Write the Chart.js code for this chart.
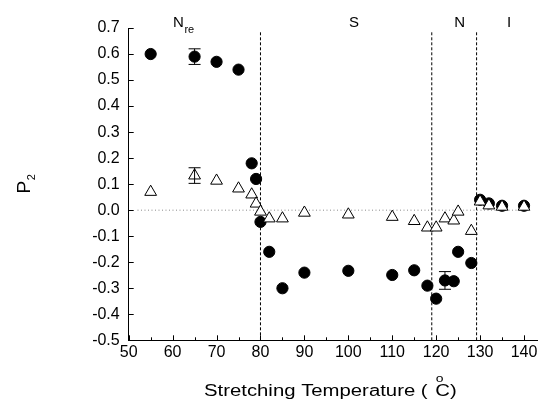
<!DOCTYPE html>
<html>
<head>
<meta charset="utf-8">
<script src="https://cdn.jsdelivr.net/npm/chart.js@4.4.1/dist/chart.umd.min.js"></script>
<style>
html, body { margin: 0; padding: 0; background: #fff; }
</style>
</head>
<body>
<canvas id="myChart" width="545" height="407"></canvas>
<script>
// stretching temperatures (°C), shared by both series
const temps     = [55, 65, 70, 75, 78, 79, 80, 82, 85, 90, 100, 110, 115, 118, 120, 122, 124, 125, 128, 130, 132, 135, 140];
// filled circles
const circleP   = [0.60, 0.59, 0.57, 0.54, 0.18, 0.12, -0.045, -0.16, -0.30, -0.24, -0.233, -0.249, -0.231, -0.29, -0.34, -0.27, -0.273, -0.16, -0.203, 0.04, 0.026, 0.017, 0.017];
// open triangles
const triangleP = [0.07, 0.133, 0.113, 0.083, 0.06, 0.025, -0.006, -0.032, -0.032, -0.01, -0.017, -0.026, -0.042, -0.067, -0.067, -0.032, -0.04, -0.006, -0.08, 0.033, 0.018, 0.013, 0.013];
// error bars
const circleErrT   = [65, 122];
const circleErr    = [0.03, 0.034];
const triangleErrT = [65];
const triangleErr  = [0.03];
// phase boundaries and names
const phaseBounds = [80, 119, 129.2];
const phaseNames  = ['N', 'S', 'N', 'I'];
// axes
const xTicks = [50, 60, 70, 80, 90, 100, 110, 120, 130, 140];
const xMinor = [55, 65, 75, 85, 95, 105, 115, 125, 135];
const yTicks = [-0.5, -0.4, -0.3, -0.2, -0.1, 0, 0.1, 0.2, 0.3, 0.4, 0.5, 0.6, 0.7];

const FONT = "'Liberation Sans', Arial, sans-serif";

function points(ys) {
    return temps.map((t, i) => ({x: t, y: ys[i]}));
}

const boundaryLines = phaseBounds.map(b => ({
    data: [{x: b, y: -0.5}, {x: b, y: 0.69}],
    showLine: true,
    borderColor: '#000',
    borderWidth: 1,
    borderDash: [3, 2],
    pointRadius: 0,
    order: 3
}));

const decor = {
    id: 'decor',
    afterDatasetsDraw(chart) {
        const ctx = chart.ctx;
        const xs = chart.scales.x, ys = chart.scales.y;
        const area = chart.chartArea;
        ctx.save();
        ctx.strokeStyle = '#000';
        ctx.lineWidth = 1;
        // inside tick marks
        ctx.beginPath();
        xTicks.forEach(v => {
            const px = Math.round(xs.getPixelForValue(v)) + 0.5;
            ctx.moveTo(px, area.bottom); ctx.lineTo(px, area.bottom - 5);
        });
        xMinor.forEach(v => {
            const px = Math.round(xs.getPixelForValue(v)) + 0.5;
            ctx.moveTo(px, area.bottom); ctx.lineTo(px, area.bottom - 3);
        });
        yTicks.forEach(v => {
            const py = Math.round(ys.getPixelForValue(v)) + 0.5;
            ctx.moveTo(area.left, py); ctx.lineTo(area.left + 5, py);
        });
        ctx.stroke();

        // error bars
        function errBar(t, p, e) {
            const px = xs.getPixelForValue(t);
            const top = ys.getPixelForValue(p + e), bot = ys.getPixelForValue(p - e);
            ctx.beginPath();
            ctx.moveTo(px, top); ctx.lineTo(px, bot);
            ctx.moveTo(px - 6, top); ctx.lineTo(px + 6, top);
            ctx.moveTo(px - 6, bot); ctx.lineTo(px + 6, bot);
            ctx.stroke();
        }
        circleErrT.forEach((t, i) => errBar(t, circleP[temps.indexOf(t)], circleErr[i]));
        triangleErrT.forEach((t, i) => errBar(t, triangleP[temps.indexOf(t)], triangleErr[i]));

        ctx.fillStyle = '#000';
        // phase labels
        const base = area.top - 1;
        ctx.textBaseline = 'alphabetic';
        ctx.font = '15px ' + FONT;
        ctx.textAlign = 'left';
        const nx = xs.getPixelForValue(60.1);
        ctx.fillText(phaseNames[0], nx, base);
        const nw = ctx.measureText(phaseNames[0]).width;
        ctx.font = '11px ' + FONT;
        ctx.fillText('re', nx + nw + 0.5, base + 6);
        ctx.font = '15px ' + FONT;
        ctx.textAlign = 'center';
        ctx.fillText(phaseNames[1], xs.getPixelForValue(101.3), base);
        ctx.fillText(phaseNames[2], xs.getPixelForValue(125.35), base);
        ctx.fillText(phaseNames[3], xs.getPixelForValue(136.6), base);

        // x axis title
        ctx.textAlign = 'left';
        ctx.save();
        ctx.translate(204, 396);
        ctx.scale(1.27, 1);
        ctx.font = '16px ' + FONT;
        const head = 'Stretching Temperature (';
        ctx.fillText(head, 0, 0);
        const hw = ctx.measureText(head).width;
        const cx = hw + 6;
        ctx.fillText('C)', cx, 0);
        ctx.font = '11px ' + FONT;
        ctx.fillText('o', cx + 0.5, -14);
        ctx.restore();

        // y axis title P2
        ctx.save();
        ctx.translate(30, 193.5);
        ctx.rotate(-Math.PI / 2);
        ctx.font = '19px ' + FONT;
        ctx.fillText('P', 0, 0);
        const pw = ctx.measureText('P').width;
        ctx.font = '11px ' + FONT;
        ctx.fillText('2', pw + 0.5, 5);
        ctx.restore();

        ctx.restore();
    }
};

new Chart('myChart', {
    type: 'scatter',
    data: {
        datasets: [
            {
                data: points(triangleP),
                pointStyle: 'triangle',
                pointRadius: 6.8,
                backgroundColor: '#fff',
                borderColor: '#000',
                borderWidth: 1,
                order: 0
            },
            {
                data: points(circleP),
                pointStyle: 'circle',
                pointRadius: 5.6,
                backgroundColor: '#000',
                borderColor: '#000',
                borderWidth: 1,
                order: 1
            },
            {
                data: [{x: 52, y: 0}, {x: 141, y: 0}],
                showLine: true,
                borderColor: '#888',
                borderWidth: 1,
                borderDash: [1, 2.5],
                pointRadius: 0,
                order: 4
            },
            ...boundaryLines
        ]
    },
    options: {
        responsive: false,
        animation: false,
        events: [],
        layout: { padding: { left: 0, top: 28, right: 7, bottom: 0 } },
        plugins: {
            legend: { display: false },
            tooltip: { enabled: false }
        },
        scales: {
            x: {
                type: 'linear',
                min: 50,
                max: 143,
                afterBuildTicks: s => { s.ticks = xTicks.map(v => ({value: v})); },
                afterFit: s => { s.height = 66.7; },
                ticks: {
                    autoSkip: false,
                    maxRotation: 0,
                    padding: 3,
                    color: '#000',
                    font: { family: FONT, size: 16 },
                    callback: v => String(v)
                },
                grid: { drawOnChartArea: false, drawTicks: false },
                border: { color: '#000', width: 1 }
            },
            y: {
                min: -0.5,
                max: 0.7,
                afterBuildTicks: s => { s.ticks = yTicks.map(v => ({value: v})); },
                afterFit: s => { s.width = 128.7; },
                ticks: {
                    autoSkip: false,
                    padding: 9,
                    color: '#000',
                    font: { family: FONT, size: 16 },
                    callback: v => v.toFixed(1)
                },
                grid: { drawOnChartArea: false, drawTicks: false },
                border: { color: '#000', width: 1 }
            }
        }
    },
    plugins: [decor]
});
</script>
</body>
</html>
